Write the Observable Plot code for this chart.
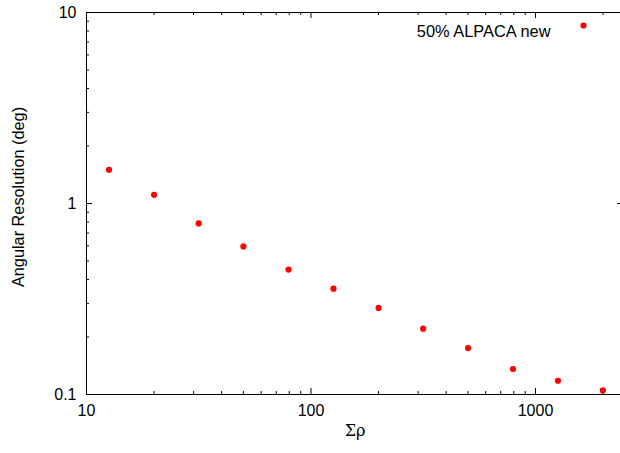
<!DOCTYPE html>
<html>
<head>
<meta charset="utf-8">
<script src="https://cdn.jsdelivr.net/npm/d3@7"></script>
<script src="https://cdn.jsdelivr.net/npm/@observablehq/plot@0.6"></script>
<style>
  html, body { margin: 0; padding: 0; background: #fff; }
  #chart svg { display: block; }
</style>
</head>
<body>
<div id="chart"></div>
<script>
// Data
const sumRho = [12.6, 20, 31.6, 50, 79.4, 126, 200, 316, 501, 794, 1259, 1995];
const angRes = [1.50, 1.11, 0.786, 0.596, 0.451, 0.358, 0.284, 0.221, 0.175, 0.136, 0.118, 0.105];
const seriesName = "50% ALPACA new";

const xMajor = [10, 100, 1000];
const xMinor = [20, 30, 40, 50, 60, 70, 80, 90, 200, 300, 400, 500, 600, 700, 800, 900, 2000];
const yMajor = [0.1, 1, 10];
const yMinor = [0.2, 0.3, 0.4, 0.5, 0.6, 0.7, 0.8, 0.9, 2, 3, 4, 5, 6, 7, 8, 9];
const xDomain = [10, 2466];
const yDomain = [0.1, 10];

const W = 620, H = 453;
const mL = 86, mR = -3, mT = 12, mB = 59;
const plotW = W - mL - mR, plotH = H - mT - mB;

const data = sumRho.map((x, i) => ({x, y: angRes[i]}));
const font = "'Liberation Sans', Arial, Helvetica, sans-serif";
const fmt = d => String(d);

function xTicks(vals, len) {
  return [
    Plot.tickX(vals, {x: d => d, insetTop: plotH - len, stroke: "#000", strokeWidth: 1}),
    Plot.tickX(vals, {x: d => d, insetBottom: plotH - len, stroke: "#000", strokeWidth: 1})
  ];
}
function yTicks(vals, len) {
  return [
    Plot.tickY(vals, {y: d => d, insetRight: plotW - len, stroke: "#000", strokeWidth: 1}),
    Plot.tickY(vals, {y: d => d, insetLeft: plotW - len, stroke: "#000", strokeWidth: 1})
  ];
}

const chart = Plot.plot({
  width: W,
  height: H,
  marginLeft: mL,
  marginRight: mR,
  marginTop: mT,
  marginBottom: mB,
  style: {fontFamily: font, fontSize: "16px", color: "#000", background: "#fff", overflow: "hidden"},
  x: {type: "log", domain: xDomain},
  y: {type: "log", domain: yDomain},
  marks: [
    Plot.frame({stroke: "#000", strokeWidth: 1}),
    ...xTicks(xMajor, 6),
    ...xTicks(xMinor, 3),
    ...yTicks(yMajor, 6),
    ...yTicks(yMinor, 3),
    // tick labels
    Plot.axisX(xMajor, {anchor: "bottom", tickSize: 0, tickPadding: 10, tickFormat: fmt, label: null, fill: "#000", fontSize: 16}),
    Plot.axisY(yMajor, {anchor: "left", tickSize: 0, tickPadding: 10, tickFormat: fmt, label: null, fill: "#000", fontSize: 16}),
    // axis titles
    Plot.text(["Σρ"], {frameAnchor: "bottom", dy: 41, fill: "#000", fontSize: 16, fontFamily: "'DejaVu Serif', serif"}),
    Plot.text(["Angular Resolution (deg)"], {frameAnchor: "left", textAnchor: "middle", dx: -68, dy: -6.5, rotate: -90, fill: "#000", fontSize: 16.3}),
    // data
    Plot.dot(data, {x: "x", y: "y", r: 3.1, fill: "#ff0000", stroke: null}),
    // legend
    Plot.text([seriesName], {frameAnchor: "top-right", dx: -73, dy: 13, textAnchor: "end", fill: "#000", fontSize: 16.4}),
    Plot.dot([seriesName], {frameAnchor: "top-right", dx: -40, dy: 13, r: 3.1, fill: "#ff0000", stroke: null})
  ]
});
document.getElementById("chart").appendChild(chart);
</script>
</body>
</html>
